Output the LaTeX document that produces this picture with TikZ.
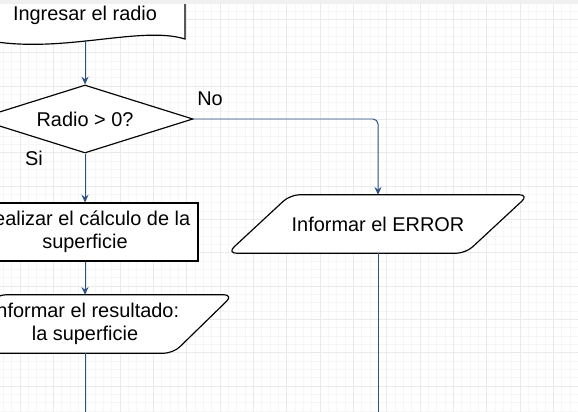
\documentclass[tikz,border=0pt]{standalone}
\usepackage{fontspec}
\setmainfont{Liberation Sans}
\usepackage{tikz}
\usetikzlibrary{arrows.meta, shapes.geometric, calc, positioning, backgrounds}
\definecolor{conn}{RGB}{44,82,130}
\definecolor{gridmin}{RGB}{246,246,246}
\definecolor{gridmaj}{RGB}{234,234,234}

\begin{document}
\begin{tikzpicture}[
          x=1cm, y=-1cm,
          >={Stealth[length=2.3mm, width=2.1mm]},
          shapeline/.style={draw=black, line width=1pt, fill=white},
          txt/.style={font=\fontsize{17}{19.6}\selectfont, align=center, inner sep=0pt},
          flow/.style={draw=conn, line width=0.85pt},
          decision/.style={shapeline, diamond, shape aspect=3.2, txt,
                           minimum width=6.48cm, minimum height=2.04cm},
          process/.style={shapeline, rectangle, txt,
                          minimum width=6.78cm, minimum height=1.74cm},
          iobox/.style={txt, minimum height=1.74cm},
        ]

        % rounded parallelogram drawn behind an iobox node
        \newcommand{\ioshape}[2]{%
          \begin{scope}[on background layer]
            \draw[shapeline, rounded corners=0.28cm]
              ($(#1.north west)+(#2,0)$) -- (#1.north east)
              -- ($(#1.south east)-(#2,0)$) -- (#1.south west) -- cycle;
          \end{scope}
        }

        \useasboundingbox (0,0) rectangle (17.34,12.36);
        \clip (0,0) rectangle (17.34,12.36);

        % --- canvas grid ---
        \begin{scope}[on background layer]
          \fill[white] (0,0) rectangle (17.34,12.36);
          \foreach \i in {-4,...,72} {
            \draw[gridmin, line width=0.6pt] ({0.6+0.25*\i},0) -- ++(0,12.4);
            \draw[gridmin, line width=0.6pt] (0,{0.585+0.25*\i}) -- ++(17.4,0);
          }
          \foreach \i in {-1,...,17} {
            \draw[gridmaj, line width=0.7pt] ({0.6+\i},0) -- ++(0,12.4);
            \draw[gridmaj, line width=0.7pt] (0,{0.585+\i}) -- ++(17.4,0);
          }
        \end{scope}

        % --- input: document shape ---
        \draw[shapeline]
          (5.55,-0.5) -- (5.55,1.17)
            .. controls (4.2,0.75) and (1.8,1.65) .. (-0.45,1.2)
            -- (-0.45,-0.5) -- cycle;
        \node[txt] (ingresar) at (2.55,0.47) {Ingresar el radio};
        \coordinate (ingresar-out) at (2.55,1.21);

        % --- decision and steps ---
        \node[decision] (radio) at (2.55,3.57) {Radio > 0?};
        \node[process] (calculo) at (2.55,6.96) {Realizar el cálculo de la\\superficie};
        \node[iobox, minimum width=8.88cm] (resultado) at (2.55,9.72)
          {Informar el resultado:\\la superficie};
        \ioshape{resultado}{1.8}
        \node[iobox, minimum width=9.03cm] (error) at (11.34,6.72) {Informar el ERROR};
        \ioshape{error}{1.89}

        % --- branch labels ---
        \node[txt] (no) at (6.3,2.97) {No};
        \node[txt] (si) at (1.02,4.74) {Si};

        % --- connectors ---
        \coordinate (fin-izq) at (2.55,12.6);
        \coordinate (fin-der) at (11.34,12.6);
        \draw[flow, ->] (ingresar-out) -- (radio.north);
        \draw[flow, ->] (radio.south) -- (calculo.north);
        \draw[flow, ->] (calculo.south) -- (resultado.north);
        \draw[flow, ->, rounded corners=0.15cm] (radio.east) -| (error.north);
        \draw[flow] (resultado.south) -- (fin-izq);
        \draw[flow] (error.south) -- (fin-der);

        % top edge of the canvas
        \fill[black!6] (0,0) rectangle (17.34,0.12);

\end{tikzpicture}
\end{document}
